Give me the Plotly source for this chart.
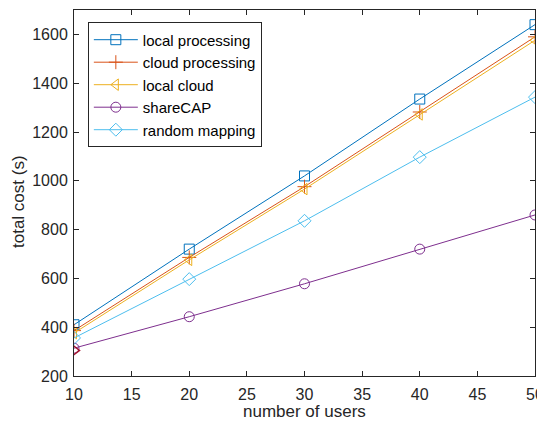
import plotly.graph_objects as go

users = [10, 20, 30, 40, 50]
local_processing = [410, 720, 1020, 1335, 1640]
cloud_processing = [386, 686, 976, 1282, 1590]
local_cloud = [376, 676, 966, 1272, 1576]
sharecap = [314, 443, 578, 720, 860]
random_mapping = [356, 597, 836, 1097, 1343]
stray_x = [10]
stray_y = [305]

series = [
    ("local processing", local_processing, "#0072BD", "square-open"),
    ("cloud processing", cloud_processing, "#D95319", "cross-thin-open"),
    ("local cloud", local_cloud, "#EDB120", "triangle-left-open"),
    ("shareCAP", sharecap, "#7E2F8E", "circle-open"),
    ("random mapping", random_mapping, "#4DBEEE", "diamond-open"),
]

FONT = "Liberation Sans, Arial"
fig = go.Figure()
for name, ys, color, sym in series:
    fig.add_trace(go.Scatter(
        x=users, y=ys, name=name, mode="lines+markers",
        line=dict(color=color, width=1),
        marker=dict(symbol=sym, size=10, color=color, line=dict(color=color, width=1)),
    ))
fig.add_trace(go.Scatter(
    x=stray_x, y=stray_y, mode="markers", showlegend=False,
    marker=dict(symbol="triangle-right-open", size=11, color="#A2142F",
                line=dict(color="#A2142F", width=1.5)),
))

axis_common = dict(
    showline=True, linecolor="#262626", linewidth=1, mirror="ticks",
    ticks="inside", ticklen=5, tickcolor="#262626", showgrid=False, zeroline=False,
    automargin=False,
    tickfont=dict(family=FONT, size=16, color="#262626"),
)
fig.update_xaxes(range=[10, 50], tickvals=[10, 15, 20, 25, 30, 35, 40, 45, 50],
                 ticklabelstandoff=4, **axis_common)
fig.update_yaxes(range=[200, 1700], tickvals=[200, 400, 600, 800, 1000, 1200, 1400, 1600],
                 ticklabelstandoff=2, **axis_common)

fig.add_annotation(text="number of users", xref="paper", yref="paper", x=0.5, y=0,
                   xanchor="center", yanchor="middle", yshift=-35, showarrow=False,
                   font=dict(family=FONT, size=17, color="#262626"))
fig.add_annotation(text="total cost (s)", xref="paper", yref="paper", x=0, y=0.5,
                   xanchor="center", yanchor="middle", xshift=-56, yshift=-9,
                   textangle=-90, showarrow=False,
                   font=dict(family=FONT, size=17, color="#262626"))

fig.update_layout(
    width=537, height=414,
    margin=dict(l=66, r=10, t=2, b=46),
    paper_bgcolor="white", plot_bgcolor="white",
    font=dict(family=FONT, size=16, color="#262626"),
    legend=dict(x=0.03, y=0.966, xanchor="left", yanchor="top",
                bgcolor="white", bordercolor="#262626", borderwidth=1,
                font=dict(family=FONT, size=15, color="#000000"), tracegroupgap=0,
                itemwidth=44),
)
fig.write_html("out.html")
